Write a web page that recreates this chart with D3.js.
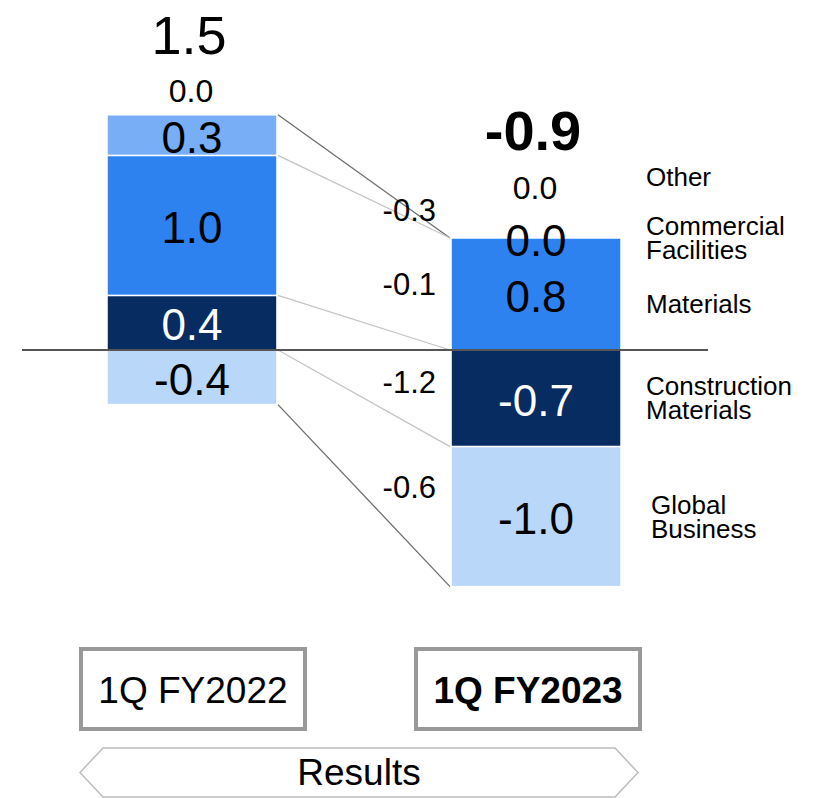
<!DOCTYPE html>
<html>
<head>
<meta charset="utf-8">
<script src="https://cdn.jsdelivr.net/npm/d3@7"></script>
<style>
  html, body { margin: 0; padding: 0; background: #fff; }
  svg { display: block; font-family: "Liberation Sans", Arial, sans-serif; }
</style>
</head>
<body>
<svg id="chart" width="820" height="798"></svg>
<script>
// ---------- data ----------
const categories = ["1Q FY2022", "1Q FY2023"];
const segmentKeys = ["Construction Materials", "Global Business", "Materials", "Commercial Facilities", "Other"];
const constructionMaterials = [0.39, -0.69];
const globalBusiness = [-0.39, -1.0];
const materials = [1.0, 0.8];
const commercialFacilities = [0.29, 0.0];
const other = [0.0, 0.0];
const totals = [1.5, -0.9];
const changeKeys = ["Commercial Facilities", "Materials", "Construction Materials", "Global Business"];
const changeValues = [-0.3, -0.1, -1.2, -0.6];
const legendKeys = ["Other", "Commercial Facilities", "Materials", "Construction Materials", "Global Business"];
const legendLines = [["Other"], ["Commercial", "Facilities"], ["Materials"], ["Construction", "Materials"], ["Global", "Business"]];
const footerLabel = "Results";

// ---------- styles ----------
const colors = {
  "Other": "#77AEF6",
  "Commercial Facilities": "#77AEF6",
  "Materials": "#2E82F0",
  "Construction Materials": "#062C62",
  "Global Business": "#B9D7F8"
};
const labelColors = {
  "Other": "#000", "Commercial Facilities": "#000", "Materials": "#000",
  "Construction Materials": "#fff", "Global Business": "#000"
};

const rows = categories.map((c, i) => ({
  category: c,
  "Construction Materials": constructionMaterials[i],
  "Global Business": globalBusiness[i],
  "Materials": materials[i],
  "Commercial Facilities": commercialFacilities[i],
  "Other": other[i]
}));

const stack = d3.stack().keys(segmentKeys).offset(d3.stackOffsetDiverging);
const series = stack(rows);
// zero-valued segments sit on top of the positive stack
categories.forEach((c, j) => {
  let posTop = 0;
  series.forEach(s => {
    const d = s[j];
    const v = d.data[s.key];
    if (v > 0) posTop = Math.max(posTop, d[1]);
    else if (v === 0) { d[0] = posTop; d[1] = posTop; }
  });
});
const byKey = {};
series.forEach(s => byKey[s.key] = s);

const svg = d3.select("#chart");

const x = d3.scaleBand().domain(categories).range([107, 621]).paddingInner(0.506).paddingOuter(0);
const y = d3.scaleLinear().domain([-1.7, 1.7]).range([588, 112]);

// bars
const barG = svg.append("g");
series.forEach(s => {
  if (s.key === "Other") return;
  barG.selectAll(null).data(s.filter(d => d[0] !== d[1])).join("rect")
    .attr("x", d => x(d.data.category))
    .attr("width", x.bandwidth())
    .attr("y", d => y(Math.max(d[0], d[1])))
    .attr("height", d => Math.abs(y(d[0]) - y(d[1])))
    .attr("fill", colors[s.key])
    .attr("stroke", "#fff")
    .attr("stroke-width", 1.5);
});

// boundaries for connectors
const topOf = i => d3.max(series, s => Math.max(s[i][0], s[i][1]));
const bottomOf = i => d3.min(series, s => Math.min(s[i][0], s[i][1]));
const upper = (key, i) => Math.max(byKey[key][i][0], byKey[key][i][1]);

const boundaries = [
  { v: [topOf(0), topOf(1)], dark: true },
  { v: [upper("Materials", 0), upper("Materials", 1)], dark: false },
  { v: [upper("Construction Materials", 0), upper("Construction Materials", 1)], dark: false },
  { v: [upper("Global Business", 0), upper("Global Business", 1)], dark: false },
  { v: [bottomOf(0), bottomOf(1)], dark: true }
];
const x0 = x(categories[0]) + x.bandwidth() + 1;
const x1 = x(categories[1]) - 1;
svg.append("g").selectAll("line").data(boundaries).join("line")
  .attr("x1", x0).attr("x2", x1)
  .attr("y1", d => y(d.v[0])).attr("y2", d => y(d.v[1]))
  .attr("stroke", d => d.dark ? "#6e6e6e" : "#c4c4c4")
  .attr("stroke-width", 1.3);

// baseline
svg.append("line")
  .attr("x1", 22).attr("x2", 708)
  .attr("y1", y(0)).attr("y2", y(0))
  .attr("stroke", "#555").attr("stroke-width", 2);

// segment labels
const fmt = d3.format(".1f");
const fmtSigned = v => (v < 0 ? "-" : "") + fmt(Math.abs(v));
const segLabelG = svg.append("g");
["Construction Materials", "Global Business", "Materials", "Commercial Facilities"].forEach(k => {
  segLabelG.selectAll(null).data(byKey[k]).join("text")
    .attr("x", d => x(d.data.category) + x.bandwidth() / 2)
    .attr("y", d => y((d[0] + d[1]) / 2) + 2)
    .attr("text-anchor", "middle")
    .attr("dominant-baseline", "central")
    .attr("font-size", 44)
    .attr("fill", labelColors[k])
    .text(d => fmtSigned(d.data[k]));
});

// "Other" labels above stack and totals
const otherY = i => {
  const t = y(topOf(i));
  const commZero = Math.abs(commercialFacilities[i]) < 0.05;
  return t - 22 - (commZero ? 28 : 0);
};
categories.forEach((c, i) => {
  const cx = x(c) + x.bandwidth() / 2;
  svg.append("text")
    .attr("x", cx - 1).attr("y", otherY(i) - (i === 0 ? 2 : 0))
    .attr("text-anchor", "middle").attr("dominant-baseline", "central")
    .attr("font-size", 32).attr("fill", "#000")
    .text(fmtSigned(other[i]));
  svg.append("text")
    .attr("x", cx - 3).attr("y", otherY(i) - 58)
    .attr("text-anchor", "middle").attr("dominant-baseline", "central")
    .attr("font-size", i === 1 ? 56 : 54)
    .attr("font-weight", i === 1 ? "bold" : "normal")
    .attr("fill", "#000")
    .text(fmtSigned(totals[i]));
});

// change labels between connectors
const lineAt = (b, xp) => y(b.v[0]) + (y(b.v[1]) - y(b.v[0])) * (xp - x0) / (x1 - x0);
const labelX = 407;
const changeNudge = [-2, 8, 3, 6];
changeKeys.forEach((k, j) => {
  const yMid = (lineAt(boundaries[j], labelX) + lineAt(boundaries[j + 1], labelX)) / 2;
  svg.append("text")
    .attr("x", 436).attr("y", yMid + changeNudge[j])
    .attr("text-anchor", "end").attr("dominant-baseline", "central")
    .attr("font-size", 31).attr("fill", "#000")
    .text(fmtSigned(changeValues[j]));
});

// legend on right
const legendY = k => {
  if (k === "Other") return otherY(1) - 11;
  const d = byKey[k][1];
  return y((d[0] + d[1]) / 2);
};
legendKeys.forEach((k, i) => {
  const lines = legendLines[i];
  const cy = legendY(k) + (k === "Materials" ? 10 : 0);
  const lh = 24;
  lines.forEach((ln, li) => {
    svg.append("text")
      .attr("font-size", 26).attr("fill", "#000")
      .attr("x", k === "Global Business" ? 651 : 646)
      .attr("y", cy + (li - (lines.length - 1) / 2) * lh)
      .attr("dominant-baseline", "central")
      .text(ln);
  });
});

// category boxes
const boxW = 224, boxH = 80, boxY = 649;
categories.forEach((c, i) => {
  const cx = x(c) + x.bandwidth() / 2 + (i === 0 ? 1 : -8);
  svg.append("rect")
    .attr("x", cx - boxW / 2).attr("y", boxY)
    .attr("width", boxW).attr("height", boxH)
    .attr("fill", "#fff").attr("stroke", "#999").attr("stroke-width", 4);
  svg.append("text")
    .attr("x", cx).attr("y", boxY + boxH / 2 + 1)
    .attr("text-anchor", "middle").attr("dominant-baseline", "central")
    .attr("font-size", 37)
    .attr("font-weight", i === 1 ? "bold" : "normal")
    .attr("fill", "#000")
    .text(c);
});

// footer hexagon arrow
const hx0 = 80, hx1 = 638, hy0 = 748, hy1 = 797, notch = 23;
const hm = (hy0 + hy1) / 2;
svg.append("path")
  .attr("d", `M${hx0},${hm} L${hx0 + notch},${hy0} L${hx1 - notch},${hy0} L${hx1},${hm} L${hx1 - notch},${hy1} L${hx0 + notch},${hy1} Z`)
  .attr("fill", "#fff").attr("stroke", "#bdbdbd").attr("stroke-width", 1.5);
svg.append("text")
  .attr("x", (hx0 + hx1) / 2).attr("y", hm)
  .attr("text-anchor", "middle").attr("dominant-baseline", "central")
  .attr("font-size", 37).attr("fill", "#000")
  .text(footerLabel);
</script>
</body>
</html>
